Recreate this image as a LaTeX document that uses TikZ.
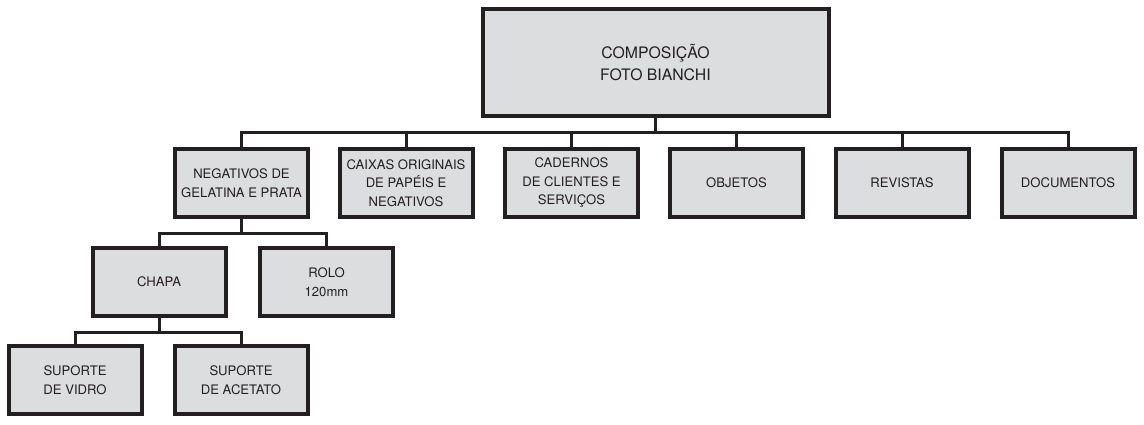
\documentclass[tikz,border=0pt]{standalone}
\usepackage{fontspec}
\setmainfont{TeX Gyre Heros}
\definecolor{boxgray}{RGB}{220,221,223}
\definecolor{ink}{RGB}{35,31,32}
\begin{document}
\begin{tikzpicture}[x=1pt, y=-1pt,
    box/.style={draw=ink, line width=4pt, fill=boxgray, text=ink, align=center,
      inner sep=0pt, minimum width=133pt, minimum height=68pt,
      font=\fontsize{13.1}{18.5}\selectfont},
    link/.style={draw=ink, line width=3pt}]
    \useasboundingbox (0,0) rectangle (1144,425);
    % top
    \node [box, minimum width=346pt, minimum height=107pt,
      font=\fontsize{15.8}{22}\selectfont] (comp) at (655.5,63) {COMPOSIÇÃO\\FOTO BIANCHI};
    % second row
    \node [box] (neg) at (241.5,183) {NEGATIVOS DE\\GELATINA E PRATA};
    \node [box] (cai) at (406,183) {CAIXAS ORIGINAIS\\DE PAPÉIS E\\NEGATIVOS};
    \node [box] (cad) at (571.5,183) {CADERNOS\\DE CLIENTES E\\SERVIÇOS};
    \node [box] (obj) at (736.5,183) {OBJETOS};
    \node [box] (rev) at (902,183) {REVISTAS};
    \node [box] (doc) at (1068,183) {DOCUMENTOS};
    % third row
    \node [box] (cha) at (159,282) {CHAPA};
    \node [box] (rol) at (326.5,282) {ROLO\\120mm};
    % fourth row
    \node [box] (vid) at (75,380) {SUPORTE\\DE VIDRO};
    \node [box] (ace) at (241,380) {SUPORTE\\DE ACETATO};
    % connectors
    \coordinate (bus1) at (655,132.5);
    \coordinate (bus2) at (242,233);
    \coordinate (bus3) at (159,332.5);
    \draw [link] (comp.south) -- (comp.south |- bus1);
    \draw [link] (neg.north) |- (doc.north |- bus1) -- (doc.north);
    \foreach \n in {cai,cad,obj,rev}
      \draw [link] (\n.north) -- (\n.north |- bus1);
    \draw [link] (neg.south) -- (neg.south |- bus2);
    \draw [link] (cha.north) |- (rol.north |- bus2) -- (rol.north);
    \draw [link] (cha.south) -- (cha.south |- bus3);
    \draw [link] (vid.north) |- (ace.north |- bus3) -- (ace.north);
  \end{tikzpicture}
\end{document}
